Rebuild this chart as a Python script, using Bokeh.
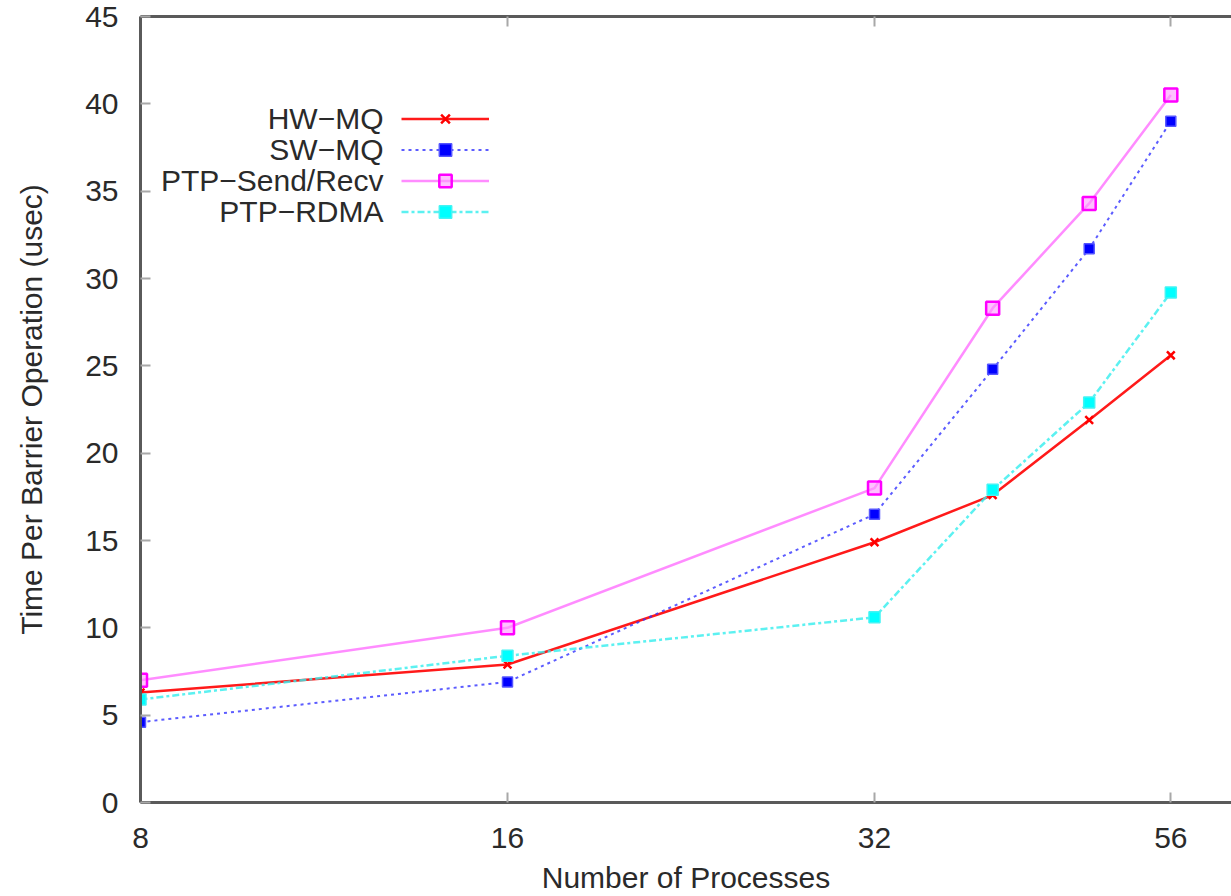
from bokeh.plotting import figure
from bokeh.models import (FixedTicker, NumeralTickFormatter, LogAxis, Legend,
                          LegendItem, Label, ColumnDataSource, Range1d,
                          CustomJSTickFormatter)
from bokeh.embed import file_html
from bokeh.resources import INLINE

# Barrier latency (usec) by number of processes
processes = [8, 16, 32, 40, 48, 56]
hw_mq = [6.3, 7.9, 14.9, 17.6, 21.9, 25.6]
sw_mq = [4.6, 6.9, 16.5, 24.8, 31.7, 39.0]
ptp_send_recv = [7.0, 10.0, 18.0, 28.3, 34.3, 40.5]
ptp_rdma = [5.9, 8.4, 10.6, 17.9, 22.9, 29.2]

x_ticks = [8, 16, 32, 56]
y_ticks = [0, 5, 10, 15, 20, 25, 30, 35, 40, 45]

FONT = "Liberation Sans"
FS = "30px"
TXT = "#2a2a2a"

p = figure(width=1231, height=896, x_axis_type="log",
           x_range=Range1d(8, 62.8), y_range=Range1d(0, 45),
           output_backend="svg", toolbar_location=None,
           min_border_left=140, min_border_right=0,
           min_border_top=16, min_border_bottom=93,
           background_fill_color="white", border_fill_color="white")
p.outline_line_color = None
p.grid.visible = False

xa = p.xaxis[0]
xa.ticker = FixedTicker(ticks=x_ticks, minor_ticks=[])
xa.formatter = NumeralTickFormatter(format="0")
xa.axis_label = "Number of Processes"
xa.major_label_standoff = 25
xa.axis_label_standoff = 10

ya = p.yaxis[0]
ya.ticker = FixedTicker(ticks=y_ticks, minor_ticks=[])
ya.axis_label = "Time Per Barrier Operation (usec)"
ya.major_label_standoff = 22
ya.axis_label_standoff = 34

# top border with mirrored x ticks, no labels
top = LogAxis(ticker=FixedTicker(ticks=x_ticks, minor_ticks=[]),
              formatter=CustomJSTickFormatter(code="return ''"),
              major_label_standoff=0)
p.add_layout(top, "above")

for ax in (xa, ya, top):
    ax.axis_line_color = "#5a5a5a"
    ax.axis_line_width = 3
    ax.major_tick_line_color = "#a8a8a8"
    ax.major_tick_line_width = 2
    ax.major_tick_in = 10
    ax.major_tick_out = 0
    ax.minor_tick_in = 0
    ax.minor_tick_out = 0
    ax.major_label_text_font = FONT
    ax.major_label_text_font_size = FS
    ax.major_label_text_color = TXT
    ax.axis_label_text_font = FONT
    ax.axis_label_text_font_size = FS
    ax.axis_label_text_font_style = "normal"
    ax.axis_label_text_color = TXT
top.major_label_text_font_size = "1px"

src = ColumnDataSource(dict(x=processes, hw=hw_mq, sw=sw_mq,
                            ps=ptp_send_recv, pr=ptp_rdma))

hw_l = p.line("x", "hw", source=src, line_color="#ff1a1a", line_width=2.5)
hw_m = p.scatter("x", "hw", source=src, marker="x", size=11,
                 line_color="#ff0000", line_width=2.5)

sw_l = p.line("x", "sw", source=src, line_color="#3333ff", line_width=2,
              line_dash="3 4", line_alpha=0.8)
sw_m = p.scatter("x", "sw", source=src, marker="square", size=10,
                 fill_color="#0000ff", line_color="#5555ff", line_width=1.5)

ps_l = p.line("x", "ps", source=src, line_color="#ff66ff", line_width=2.5,
              line_alpha=0.75)
ps_m = p.scatter("x", "ps", source=src, marker="square", size=13,
                 fill_color="#ff99ff", fill_alpha=0.6,
                 line_color="#ff00ff", line_width=2.5)

pr_l = p.line("x", "pr", source=src, line_color="#33eeee", line_width=2.5,
              line_dash="7 3 3 3", line_alpha=0.8)
pr_m = p.scatter("x", "pr", source=src, marker="square", size=11,
                 fill_color="#00ffff", line_color="#44f4f4", line_width=1.5)

names = ["HW\u2212MQ", "SW\u2212MQ", "PTP\u2212Send/Recv", "PTP\u2212RDMA"]
pairs = [(hw_l, hw_m), (sw_l, sw_m), (ps_l, ps_m), (pr_l, pr_m)]

legend = Legend(items=[LegendItem(label=" ", renderers=list(r)) for r in pairs],
                location=(261, 575), orientation="vertical",
                glyph_width=88, glyph_height=31, spacing=0, padding=0,
                margin=0, label_standoff=0, label_width=0, label_height=0,
                label_text_font_size="1px",
                border_line_alpha=0, background_fill_alpha=0)
p.add_layout(legend, "center")

row_y = [684, 653, 622, 591]
for name, yy in zip(names, row_y):
    p.add_layout(Label(x=243, y=yy, x_units="screen", y_units="screen",
                       text=name, text_align="right", text_baseline="middle",
                       text_font=FONT, text_font_size=FS, text_color=TXT))

open("out.html", "w").write(file_html(p, INLINE))
